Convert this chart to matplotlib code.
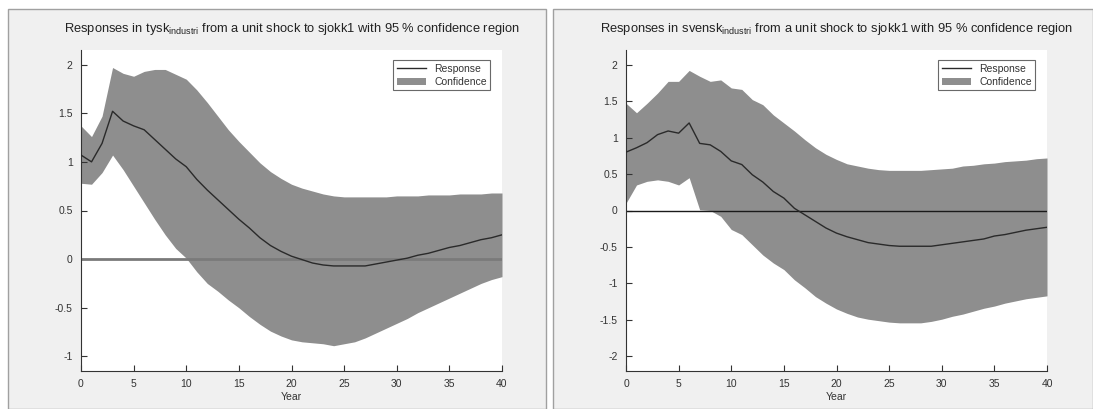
import matplotlib
matplotlib.use("Agg")
import matplotlib.pyplot as plt
from matplotlib.patches import Rectangle
import numpy as np

years = list(range(0, 41))

tysk_resp = [1.07, 1.00, 1.19, 1.52, 1.42, 1.37, 1.33, 1.23, 1.13, 1.03, 0.95, 0.82, 0.71, 0.61,
             0.51, 0.41, 0.32, 0.22, 0.14, 0.08, 0.03, -0.005, -0.04, -0.06, -0.07, -0.07, -0.07,
             -0.07, -0.05, -0.03, -0.01, 0.01, 0.04, 0.06, 0.09, 0.12, 0.14, 0.17, 0.20, 0.22, 0.25]
tysk_upper = [1.37, 1.26, 1.47, 1.97, 1.91, 1.88, 1.93, 1.95, 1.95, 1.90, 1.85, 1.74, 1.61, 1.47,
              1.33, 1.21, 1.10, 0.99, 0.90, 0.83, 0.77, 0.73, 0.70, 0.67, 0.65, 0.64, 0.64, 0.64,
              0.64, 0.64, 0.65, 0.65, 0.65, 0.66, 0.66, 0.66, 0.67, 0.67, 0.67, 0.68, 0.68]
tysk_lower = [0.78, 0.77, 0.89, 1.07, 0.92, 0.75, 0.58, 0.41, 0.25, 0.11, 0.01, -0.13, -0.25, -0.33,
              -0.42, -0.50, -0.59, -0.67, -0.74, -0.79, -0.83, -0.85, -0.86, -0.87, -0.89, -0.87,
              -0.85, -0.81, -0.76, -0.71, -0.66, -0.61, -0.55, -0.50, -0.45, -0.40, -0.35, -0.30,
              -0.25, -0.21, -0.18]

svensk_resp = [0.80, 0.86, 0.93, 1.04, 1.09, 1.06, 1.20, 0.92, 0.90, 0.81, 0.68, 0.63, 0.49, 0.39,
               0.26, 0.17, 0.03, -0.06, -0.15, -0.24, -0.31, -0.36, -0.40, -0.44, -0.46, -0.48,
               -0.49, -0.49, -0.49, -0.49, -0.47, -0.45, -0.43, -0.41, -0.39, -0.35, -0.33, -0.30,
               -0.27, -0.25, -0.23]
svensk_upper = [1.47, 1.34, 1.47, 1.61, 1.77, 1.77, 1.92, 1.84, 1.77, 1.79, 1.68, 1.66, 1.52, 1.45,
                1.31, 1.20, 1.09, 0.97, 0.86, 0.77, 0.70, 0.64, 0.61, 0.58, 0.56, 0.55, 0.55, 0.55,
                0.55, 0.56, 0.57, 0.58, 0.61, 0.62, 0.64, 0.65, 0.67, 0.68, 0.69, 0.71, 0.72]
svensk_lower = [0.10, 0.35, 0.40, 0.42, 0.40, 0.35, 0.45, 0.01, 0.00, -0.08, -0.26, -0.33, -0.47,
                -0.61, -0.72, -0.81, -0.95, -1.06, -1.18, -1.27, -1.35, -1.41, -1.46, -1.49, -1.51,
                -1.53, -1.54, -1.54, -1.54, -1.52, -1.49, -1.45, -1.42, -1.38, -1.34, -1.31, -1.27,
                -1.24, -1.21, -1.19, -1.17]

panels = [
    dict(name="tysk", resp=tysk_resp, up=tysk_upper, lo=tysk_lower,
         yticks=[-1, -0.5, 0, 0.5, 1, 1.5, 2], ylim=(-1.15, 2.15), zc="#7a7a7a", zw=2.0),
    dict(name="svensk", resp=svensk_resp, up=svensk_upper, lo=svensk_lower,
         yticks=[-2, -1.5, -1, -0.5, 0, 0.5, 1, 1.5, 2], ylim=(-2.2, 2.2), zc="#1a1a1a", zw=1.0),
]

plt.rcParams['font.family'] = ['Liberation Sans', 'DejaVu Sans']
plt.rcParams['mathtext.fontset'] = 'custom'
plt.rcParams['mathtext.rm'] = 'Liberation Sans'
W, H = 1093, 409
fig = plt.figure(figsize=(W / 100, H / 100), dpi=100)
fig.patch.set_facecolor("white")

# panel frames
for x0, x1 in [(8, 546), (553, 1093)]:
    r = Rectangle((x0 / W, 0), (x1 - x0) / W, (H - 9) / H,
                  transform=fig.transFigure, facecolor="#f0f0f0",
                  edgecolor="#a0a0a0", linewidth=1.0, zorder=-10)
    fig.add_artist(r)

lefts = [81, 626]
for p, lx in zip(panels, lefts):
    ax = fig.add_axes([lx / W, (H - 371) / H, 421 / W, 321 / H])
    ax.set_zorder(1)
    ax.set_facecolor("white")
    ax.fill_between(years, p["lo"], p["up"], color="#8e8e8e", linewidth=0, label="Confidence", zorder=1)
    ax.axhline(0, color=p["zc"], linewidth=p["zw"], zorder=2)
    ax.plot(years, p["resp"], color="#2a2a2a", linewidth=1.0, label="Response", zorder=3)
    ax.set_xlim(0, 40)
    ax.set_ylim(*p["ylim"])
    ax.set_xticks(range(0, 41, 5))
    ax.set_yticks(p["yticks"])
    ax.set_yticklabels([("%g" % v) for v in p["yticks"]])
    for s in ["top", "right"]:
        ax.spines[s].set_visible(False)
    for s in ["left", "bottom"]:
        ax.spines[s].set_color("#333333")
        ax.spines[s].set_linewidth(0.8)
    ax.tick_params(direction="in", length=4, width=0.8, labelsize=7.5, colors="#333333", pad=6)
    ax.set_xlabel("Year", fontsize=7.5, color="#333333", labelpad=2)
    ax.set_title(r"Responses in %s$_{\mathrm{industri}}$ from a unit shock to sjokk1 with 95 %% confidence region" % p["name"],
                 fontsize=9.3, color="#222222", pad=13)
    h, l = ax.get_legend_handles_labels()
    order = [l.index("Response"), l.index("Confidence")]
    leg = ax.legend([h[i] for i in order], [l[i] for i in order], loc="upper right",
                    fontsize=7.5, frameon=True, fancybox=False, borderpad=0.35,
                    handlelength=2.8, labelspacing=0.3, bbox_to_anchor=(0.985, 0.985))
    leg.get_frame().set_edgecolor("#444444")
    leg.get_frame().set_linewidth(0.8)
    for t in leg.get_texts():
        t.set_color("#333333")

fig.savefig("out.png", dpi=100, facecolor="white")
